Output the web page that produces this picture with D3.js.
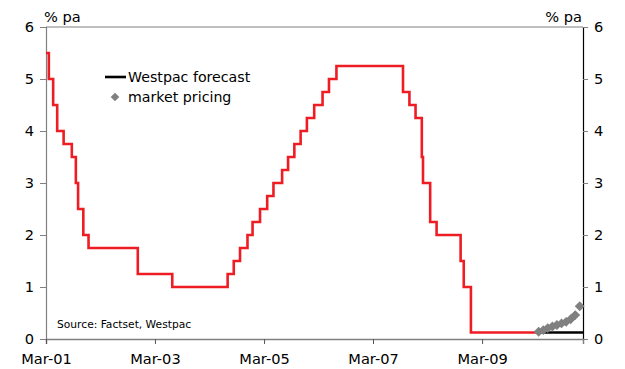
<!DOCTYPE html>
<html><head><meta charset="utf-8">
<script src="https://cdn.jsdelivr.net/npm/d3@7"></script>
<style>
body{margin:0;background:#fff;}
text{font-family:"DejaVu Sans",Verdana,sans-serif;fill:#000;}
</style></head>
<body>
<svg id="c" width="625" height="369"></svg>
<script>
// Fed funds target rate: change dates and new levels (% pa)
const rateDates = ["2001-03-01","2001-03-20","2001-04-18","2001-05-15","2001-06-27","2001-08-21","2001-09-17","2001-10-02","2001-11-06","2001-12-11","2002-11-06","2003-06-25","2004-06-30","2004-08-10","2004-09-21","2004-11-10","2004-12-14","2005-02-02","2005-03-22","2005-05-03","2005-06-30","2005-08-09","2005-09-20","2005-11-01","2005-12-13","2006-01-31","2006-03-28","2006-05-10","2006-06-29","2007-09-18","2007-10-31","2007-12-11","2008-01-22","2008-01-30","2008-03-18","2008-04-30","2008-10-08","2008-10-29","2008-12-16","2010-03-01"];
const rateValues = [5.5,5.0,4.5,4.0,3.75,3.5,3.0,2.5,2.0,1.75,1.25,1.0,1.25,1.5,1.75,2.0,2.25,2.5,2.75,3.0,3.25,3.5,3.75,4.0,4.25,4.5,4.75,5.0,5.25,4.75,4.5,4.25,3.5,3.0,2.25,2.0,1.5,1.0,0.125,0.125];
// Westpac forecast
const forecastDates = ["2010-03-01","2011-01-06"];
const forecastValues = [0.125,0.125];
// Market pricing
const marketDates = ["2010-03-15","2010-04-15","2010-05-15","2010-06-15","2010-07-15","2010-08-15","2010-09-15","2010-10-15","2010-11-15","2010-12-15"];
const marketValues = [0.14,0.17,0.21,0.24,0.27,0.30,0.33,0.38,0.46,0.63];
// Axes
const xTickDates = ["2001-03-01","2003-03-01","2005-03-01","2007-03-01","2009-03-01"];
const xTickLabels = ["Mar-01","Mar-03","Mar-05","Mar-07","Mar-09"];
const yTicks = [0,1,2,3,4,5,6];
const xDomain = ["2001-03-01","2011-01-06"];

const parse = d3.timeParse("%Y-%m-%d");
const svg = d3.select("#c");
const L=46,R=583,T=27,B=339;
const x = d3.scaleTime().domain(xDomain.map(parse)).range([L,R]);
const y = d3.scaleLinear().domain([0,6]).range([B,T]);

const fontSize = 14.6;
// top border
svg.append("line").attr("x1",L).attr("x2",R).attr("y1",T).attr("y2",T).attr("stroke","#808080").attr("stroke-width",1.2);

// left axis
const yl = svg.append("g").attr("transform",`translate(${L},0)`)
  .call(d3.axisLeft(y).tickValues(yTicks).tickFormat(d3.format("d")).tickSize(6).tickPadding(6));
yl.select(".domain").attr("stroke","#808080").attr("stroke-width",1.2);
yl.selectAll(".tick line").attr("stroke","#808080");
yl.selectAll("text").attr("font-size",fontSize).attr("font-family","DejaVu Sans");

// right axis
const yr = svg.append("g").attr("transform",`translate(${R},0)`)
  .call(d3.axisRight(y).tickValues(yTicks).tickFormat(d3.format("d")).tickSize(5).tickPadding(6));
yr.select(".domain").attr("stroke","#000").attr("stroke-width",1.2);
yr.selectAll(".tick line").attr("stroke","#808080");
yr.selectAll("text").attr("font-size",fontSize).attr("font-family","DejaVu Sans");

// bottom axis
const xa = svg.append("g").attr("transform",`translate(0,${B})`)
  .call(d3.axisBottom(x).tickValues(xTickDates.map(parse)).tickFormat((d,i)=>xTickLabels[i]).tickSize(5).tickPadding(10));
xa.select(".domain").attr("stroke","#808080").attr("stroke-width",1.5);
xa.selectAll(".tick line").attr("stroke","#555");
xa.selectAll("text").attr("font-size",fontSize).attr("font-family","DejaVu Sans");

// units
svg.append("text").attr("x",44).attr("y",22).attr("font-size",fontSize).text("% pa");
svg.append("text").attr("x",582).attr("y",22).attr("text-anchor","end").attr("font-size",fontSize).text("% pa");

// red step line
const rateData = rateDates.map((d,i)=>({d:parse(d),v:rateValues[i]}));
const stepLine = d3.line().x(d=>x(d.d)).y(d=>y(d.v)).curve(d3.curveStepAfter);
svg.append("path").datum(rateData).attr("d",stepLine).attr("fill","none")
  .attr("stroke","#ee1d24").attr("stroke-width",2.6);

// forecast line
const fcData = forecastDates.map((d,i)=>({d:parse(d),v:forecastValues[i]}));
svg.append("path").datum(fcData).attr("d",d3.line().x(d=>x(d.d)).y(d=>y(d.v))).attr("fill","none")
  .attr("stroke","#000").attr("stroke-width",2.6);

// market pricing diamonds
const sym = d3.symbol().type(d3.symbolDiamond2).size(62);
svg.append("g").selectAll("path").data(marketDates.map((d,i)=>({d:parse(d),v:marketValues[i]})))
  .join("path").attr("d",sym).attr("transform",d=>`translate(${x(d.d)},${y(d.v)})`)
  .attr("fill","#808080");

// legend
svg.append("line").attr("x1",105).attr("x2",126).attr("y1",77).attr("y2",77).attr("stroke","#000").attr("stroke-width",2.6);
svg.append("text").attr("x",128).attr("y",82).attr("font-size",14.2).text("Westpac forecast");
svg.append("path").attr("d",d3.symbol().type(d3.symbolDiamond2).size(48)).attr("transform","translate(115,97)").attr("fill","#808080");
svg.append("text").attr("x",128).attr("y",102).attr("font-size",14.2).text("market pricing");

// source
svg.append("text").attr("x",57).attr("y",328).attr("font-size",10.7).text("Source: Factset, Westpac");
</script>
</body></html>
